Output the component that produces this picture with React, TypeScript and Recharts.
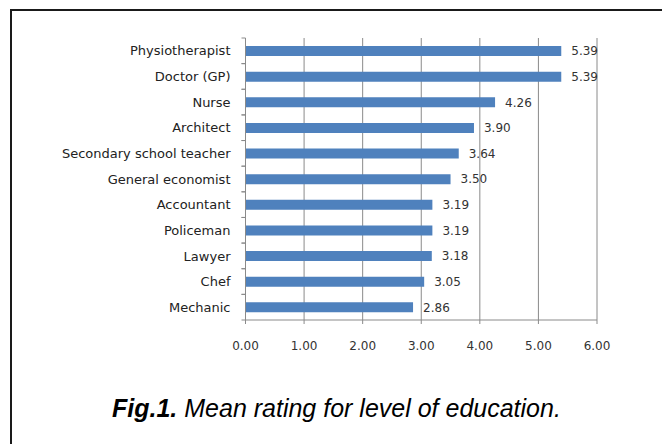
import { Bar, BarChart, CartesianGrid, LabelList, XAxis, YAxis } from 'recharts';

const occupations = [
  'Physiotherapist',
  'Doctor (GP)',
  'Nurse',
  'Architect',
  'Secondary school teacher',
  'General economist',
  'Accountant',
  'Policeman',
  'Lawyer',
  'Chef',
  'Mechanic',
];
const meanRatings = [5.39, 5.39, 4.26, 3.9, 3.64, 3.5, 3.19, 3.19, 3.18, 3.05, 2.86];
const ratingTicks = [0, 1, 2, 3, 4, 5, 6];

const data = occupations.map((name, i) => ({ name, rating: meanRatings[i] }));

const BAR_BLUE = '#4f81bd';
const GRID_GRAY = '#8a8a8a';
const TICK_MARGIN = 11;
const TICK_SIZE = 4;

// Excel-style category tick: label at the band centre, tick marks on the band edges
function CategoryTick(props: any) {
  const { x, y, payload } = props;
  const half = payload?.offset ?? 12.8;
  const lx = x + TICK_MARGIN;
  return (
    <g>
      <line x1={lx} x2={lx + TICK_SIZE} y1={y - half} y2={y - half} stroke={GRID_GRAY} />
      <line x1={lx} x2={lx + TICK_SIZE} y1={y + half} y2={y + half} stroke={GRID_GRAY} />
      <text
        x={x}
        y={y}
        dy="0.36em"
        textAnchor="end"
        fontSize={13}
        fontFamily="DejaVu Sans, sans-serif"
        fill="#222"
      >
        {payload.value}
      </text>
    </g>
  );
}

export default function App() {
  return (
    <div style={{ position: 'absolute', left: 0, top: 0, width: 662, height: 444, background: '#fff', overflow: 'hidden' }}>
      <BarChart
        width={662}
        height={444}
        data={data}
        layout="vertical"
        margin={{ top: 38, right: 65, bottom: 94, left: 0 }}
        barSize={10}
      >
        <CartesianGrid horizontal={false} stroke={GRID_GRAY} />
        <XAxis
          type="number"
          domain={[0, 6]}
          ticks={ratingTicks}
          tickFormatter={(v: number) => v.toFixed(2)}
          height={30}
          stroke={GRID_GRAY}
          tickSize={TICK_SIZE}
          tickMargin={17}
          tick={{ fontSize: 12, fontFamily: 'DejaVu Sans, sans-serif', fill: '#333' }}
        />
        <YAxis
          type="category"
          dataKey="name"
          width={245.5}
          stroke={GRID_GRAY}
          tickLine={false}
          tickSize={TICK_SIZE}
          tickMargin={TICK_MARGIN}
          interval={0}
          tick={<CategoryTick />}
        />
        <Bar dataKey="rating" fill={BAR_BLUE} isAnimationActive={false}>
          <LabelList
            dataKey="rating"
            position="right"
            offset={10}
            formatter={(v: any) => Number(v).toFixed(2)}
            style={{ fontSize: 12, fontFamily: 'DejaVu Sans, sans-serif', fill: '#333' }}
          />
        </Bar>
      </BarChart>
      <svg width={662} height={444} style={{ position: 'absolute', left: 0, top: 0, pointerEvents: 'none' }}>
        <rect x={11} y={10} width={700} height={500} fill="none" stroke="#1a1a1a" strokeWidth={2} />
        <text x={112} y={417} fontFamily="Liberation Sans, Arial, sans-serif" fontSize={25} fontStyle="italic" fill="#000">
          <tspan fontWeight="bold">Fig.1.</tspan> Mean rating for level of education.
        </text>
      </svg>
    </div>
  );
}
